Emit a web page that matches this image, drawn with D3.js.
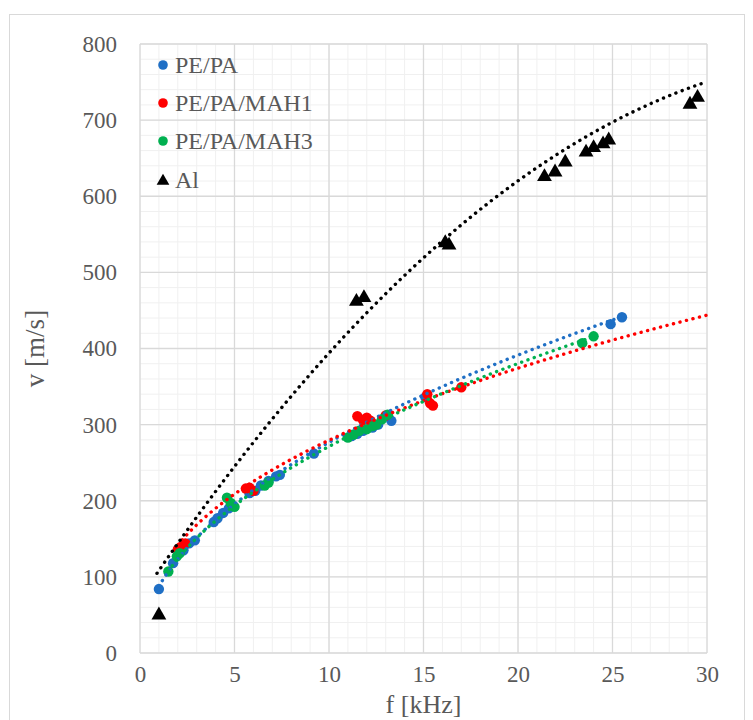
<!DOCTYPE html>
<html>
<head>
<meta charset="utf-8">
<script src="https://cdn.jsdelivr.net/npm/d3@7"></script>
<style>
  html, body { margin: 0; padding: 0; background: #fff; }
  svg { display: block; }
</style>
</head>
<body>
<svg id="chart" width="753" height="720"></svg>
<script>
// ---------------- DATA ----------------
const seriesNames = ["PE/PA", "PE/PA/MAH1", "PE/PA/MAH3", "Al"];
const seriesColors = ["#1F6FC5", "#FF0000", "#00B050", "#000000"];

const pePaF = [1.0, 1.75, 2.3, 2.6, 2.9, 3.9, 4.1, 4.4, 4.7, 5.8, 6.1, 6.4, 6.8, 7.2, 7.4, 9.2, 11.2, 11.5, 11.8, 12.3, 12.6, 13.3, 15.1, 24.9, 25.5];
const pePaV = [84, 118, 135, 144, 148, 172, 177, 184, 190, 210, 213, 220, 226, 232, 234, 262, 285, 288, 292, 296, 300, 305, 336, 432, 441];

const mah1F = [2.0, 2.2, 2.4, 5.6, 5.8, 6.0, 11.5, 11.8, 12.0, 12.2, 13.0, 15.2, 15.35, 15.5, 17.0];
const mah1V = [136, 140, 144, 216, 217, 213, 311, 306, 309, 305, 312, 340, 328, 325, 349];

const mah3F = [1.5, 1.95, 2.1, 4.6, 4.8, 5.0, 6.6, 6.8, 11.0, 11.3, 11.6, 12.0, 12.3, 12.5, 12.8, 13.1, 23.4, 24.0];
const mah3V = [107, 127, 131, 204, 197, 192, 220, 224, 283, 287, 292, 294, 298, 300, 307, 313, 407, 416];

const alF = [1.0, 11.45, 11.85, 16.15, 16.35, 21.4, 21.96, 22.5, 23.6, 24.0, 24.5, 24.8, 29.1, 29.5];
const alV = [51, 463, 468, 540, 537, 627, 633, 646, 659, 665, 670, 675, 722, 731];

// trendlines: power fits v = a * f^b for the polymers, 2nd-order polynomial for Al
const powerTrendA = [87.5, 106, 88.4];
const powerTrendB = [0.50, 0.421, 0.487];
const alPolyTrend = [71.8, 37.02, -0.48];
const trendStart = [1.0, 2.0, 1.5, 0.9];
const trendEnd = [25.5, 30, 24.0, 30];

const xTicks = [0, 5, 10, 15, 20, 25, 30];
const yTicks = [0, 100, 200, 300, 400, 500, 600, 700, 800];
const xTitle = "f [kHz]";
const yTitle = "v [m/s]";

// ---------------- CHART ----------------
const FONT = "'Liberation Serif', 'Times New Roman', 'DejaVu Serif', serif";
const svg = d3.select("#chart");
const x = d3.scaleLinear().domain([0, 30]).range([140, 707]);
const y = d3.scaleLinear().domain([0, 800]).range([653, 44]);

// outer chart border
svg.append("rect").attr("x", 9.5).attr("y", 14.5).attr("width", 735).attr("height", 720)
  .attr("fill", "#fff").attr("stroke", "#d9d9d9").attr("stroke-width", 1);

// minor gridlines
const grid = svg.append("g");
grid.selectAll(".mx").data(d3.range(0, 31, 1)).join("line")
  .attr("x1", d => x(d)).attr("x2", d => x(d)).attr("y1", y(0)).attr("y2", y(800))
  .attr("stroke", "#f0f0f0").attr("stroke-width", 1);
grid.selectAll(".my").data(d3.range(0, 801, 20)).join("line")
  .attr("y1", d => y(d)).attr("y2", d => y(d)).attr("x1", x(0)).attr("x2", x(30))
  .attr("stroke", "#f0f0f0").attr("stroke-width", 1);
// major gridlines
grid.selectAll(".Mx").data(xTicks).join("line")
  .attr("x1", d => x(d)).attr("x2", d => x(d)).attr("y1", y(0)).attr("y2", y(800))
  .attr("stroke", "#d9d9d9").attr("stroke-width", 1.3);
grid.selectAll(".My").data(yTicks).join("line")
  .attr("y1", d => y(d)).attr("y2", d => y(d)).attr("x1", x(0)).attr("x2", x(30))
  .attr("stroke", "#d9d9d9").attr("stroke-width", 1.3);

// axes (labels only)
const xAxis = d3.axisBottom(x).tickValues(xTicks).tickSize(0).tickPadding(13).tickFormat(d3.format("d"));
const yAxis = d3.axisLeft(y).tickValues(yTicks).tickSize(0).tickPadding(23).tickFormat(d3.format("d"));
const gx = svg.append("g").attr("transform", `translate(0,${y(0)})`).call(xAxis);
const gy = svg.append("g").attr("transform", `translate(${x(0)},0)`).call(yAxis);
[gx, gy].forEach(g => {
  g.select(".domain").remove();
  g.attr("font-family", null).attr("font-size", null);
  g.selectAll("text").style("font-family", FONT).style("font-size", "23px").attr("fill", "#595959");
});

// axis titles
svg.append("text").attr("x", (x(0) + x(30)) / 2).attr("y", 713).attr("text-anchor", "middle")
  .style("font-family", FONT).style("font-size", "26px").attr("fill", "#595959").text(xTitle);
svg.append("text").attr("transform", `translate(44,${(y(0) + y(800)) / 2}) rotate(-90)`)
  .attr("text-anchor", "middle").style("font-family", FONT).style("font-size", "27px")
  .attr("fill", "#595959").text(yTitle);

// markers
const pts = [
  d3.zip(pePaF, pePaV), d3.zip(mah1F, mah1V), d3.zip(mah3F, mah3V)
];
const marks = svg.append("g");
pts.forEach((arr, i) => {
  marks.append("g").selectAll("circle").data(arr).join("circle")
    .attr("cx", d => x(d[0])).attr("cy", d => y(d[1])).attr("r", 5.2)
    .attr("fill", seriesColors[i]);
});
const tri = d3.symbol().type(d3.symbolTriangle).size(95);
marks.append("g").selectAll("path").data(d3.zip(alF, alV)).join("path")
  .attr("d", tri).attr("transform", d => `translate(${x(d[0])},${y(d[1]) + 1})`)
  .attr("fill", "#000");

// trendlines
const line = d3.line().x(d => x(d[0])).y(d => y(d[1]));
const trendG = svg.append("g");
for (let i = 0; i < 4; i++) {
  const fs = d3.range(trendStart[i], trendEnd[i], 0.05).concat([trendEnd[i]]);
  const pts2 = fs.map(f => {
    const v = i < 3 ? powerTrendA[i] * Math.pow(f, powerTrendB[i])
                    : alPolyTrend[0] + alPolyTrend[1] * f + alPolyTrend[2] * f * f;
    return [f, v];
  });
  trendG.append("path").attr("d", line(pts2)).attr("fill", "none")
    .attr("stroke", seriesColors[i]).attr("stroke-width", 3.4)
    .attr("stroke-linecap", "round").attr("stroke-dasharray", "0.1 6.6");
}

// legend
const legend = svg.append("g");
const legY = [65, 103, 141, 180];
seriesNames.forEach((name, i) => {
  if (i < 3) {
    legend.append("circle").attr("cx", 163).attr("cy", legY[i]).attr("r", 4.8)
      .attr("fill", seriesColors[i]);
  } else {
    legend.append("path").attr("d", d3.symbol().type(d3.symbolTriangle).size(70))
      .attr("transform", `translate(163,${legY[i] + 1})`).attr("fill", "#000");
  }
  legend.append("text").attr("x", 175).attr("y", legY[i] + 8)
    .style("font-family", FONT).style("font-size", "24px").attr("fill", "#595959").text(name);
});
</script>
</body>
</html>
